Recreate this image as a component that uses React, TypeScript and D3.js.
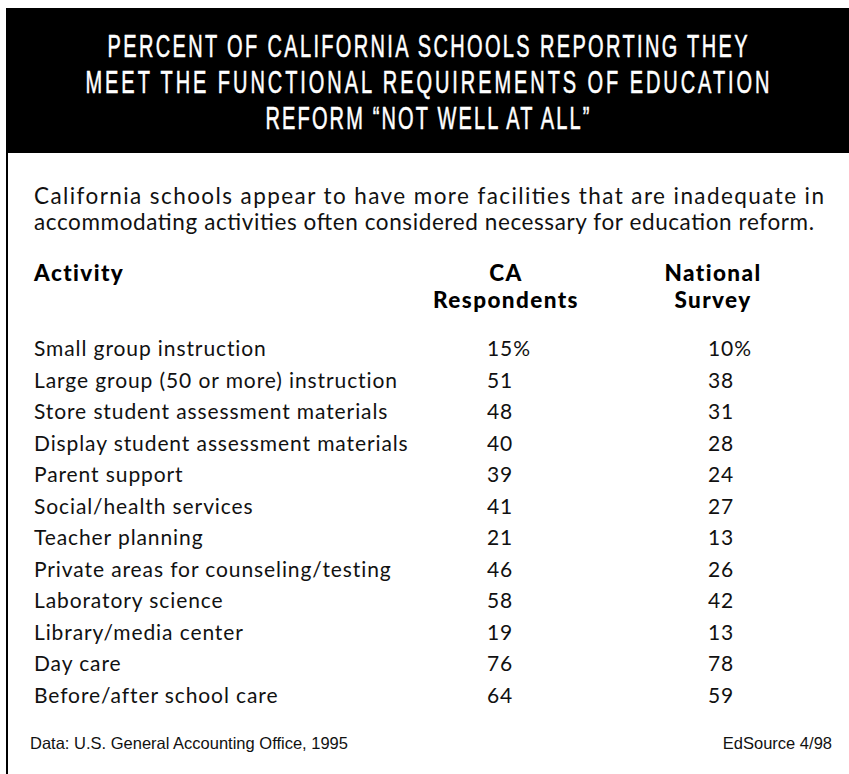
import React from "react";
import * as d3 from "d3";

// ---------- data ----------
const titleLines = [
  "PERCENT OF CALIFORNIA SCHOOLS REPORTING THEY",
  "MEET THE FUNCTIONAL REQUIREMENTS OF EDUCATION",
  "REFORM \u201CNOT WELL AT ALL\u201D",
];
const descriptionLines = [
  "California schools appear to have more facilities that are inadequate in",
  "accommodating activities often considered necessary for education reform.",
];
const activityHeader = ["Activity"];
const caHeader = ["CA", "Respondents"];
const nationalHeader = ["National", "Survey"];
const activities = [
  "Small group instruction",
  "Large group (50 or more) instruction",
  "Store student assessment materials",
  "Display student assessment materials",
  "Parent support",
  "Social/health services",
  "Teacher planning",
  "Private areas for counseling/testing",
  "Laboratory science",
  "Library/media center",
  "Day care",
  "Before/after school care",
];
const caValues = [15, 51, 48, 40, 39, 41, 21, 46, 58, 19, 76, 64];
const nationalValues = [10, 38, 31, 28, 24, 27, 13, 26, 42, 13, 78, 59];
const sourceNote = "Data: U.S. General Accounting Office, 1995";
const creditNote = "EdSource 4/98";

// ---------- layout ----------
const W = 849;
const H = 774;
const titleFont = "'Liberation Sans', Arial, sans-serif";
const bodyFont = "Lato, 'Open Sans', 'DejaVu Sans', sans-serif";
const footFont = "'Liberation Sans', Arial, sans-serif";

const titleBaselines = [57, 93, 129];
const titleWidths = [640, 684, 324];
const titleSx = 0.8;
const titleSy = 1.27;
const descBaselines = [204, 230];
const descWidths = [790, 780];
const leftX = 34;
const caCenter = 506;
const natCenter = 713;
const caNumX = 487;
const natNumX = 708;

export default function App() {
  const rowY = d3
    .scaleLinear()
    .domain([0, activities.length - 1])
    .range([356, 703]);
  const headerY = d3.scaleLinear().domain([0, 1]).range([281, 308]);
  const fmt = (v: number, i: number) => (i === 0 ? `${v}%` : `${v}`);
  const headStyle = {
    fontFamily: bodyFont,
    fontWeight: 900,
    fontSize: 22.5,
    letterSpacing: 1.4,
    fill: "#000",
  } as const;

  return (
    <svg
      width={W}
      height={H}
      style={{ position: "absolute", left: 0, top: 0, background: "#fff" }}
    >
      <rect x={0} y={0} width={W} height={H} fill="#fff" />
      {/* title band */}
      <rect x={6} y={8} width={W - 6} height={145} fill="#000" />
      {titleLines.map((t, i) => (
        <g
          key={t}
          transform={`translate(${(6 + W) / 2},${titleBaselines[i]}) scale(${titleSx},${titleSy})`}
        >
          <text
            x={0}
            y={0}
            textAnchor="middle"
            fill="#fff"
            stroke="#fff"
            strokeWidth={0.45}
            fontFamily={titleFont}
            fontSize={25}
            textLength={titleWidths[i] / titleSx}
            lengthAdjust="spacing"
          >
            {t}
          </text>
        </g>
      ))}
      {/* left frame line */}
      <line x1={7} x2={7} y1={153} y2={H} stroke="#000" strokeWidth={2} />

      {/* description */}
      {descriptionLines.map((t, i) => (
        <text
          key={t}
          x={leftX}
          y={descBaselines[i]}
          fill="#111"
          fontFamily={bodyFont}
          fontSize={22.5}
          textLength={descWidths[i]}
          lengthAdjust="spacing"
        >
          {t}
        </text>
      ))}

      {/* headers */}
      {activityHeader.map((t, i) => (
        <text key={t} x={leftX} y={headerY(i)} {...headStyle}>
          {t}
        </text>
      ))}
      {caHeader.map((t, i) => (
        <text key={t} x={caCenter} y={headerY(i)} textAnchor="middle" {...headStyle}>
          {t}
        </text>
      ))}
      {nationalHeader.map((t, i) => (
        <text key={t} x={natCenter} y={headerY(i)} textAnchor="middle" {...headStyle}>
          {t}
        </text>
      ))}

      {/* rows */}
      {activities.map((a, i) => (
        <g
          key={a}
          fontFamily={bodyFont}
          fontSize={21}
          fill="#111"
          letterSpacing={0.9}
        >
          <text x={leftX} y={rowY(i)}>
            {a}
          </text>
          <text x={caNumX} y={rowY(i)}>
            {fmt(caValues[i], i)}
          </text>
          <text x={natNumX} y={rowY(i)}>
            {fmt(nationalValues[i], i)}
          </text>
        </g>
      ))}

      {/* footer */}
      <text x={30} y={749} fontFamily={footFont} fontSize={16.5} fill="#111">
        {sourceNote}
      </text>
      <text
        x={832}
        y={749}
        textAnchor="end"
        fontFamily={footFont}
        fontSize={16.5}
        fill="#111"
      >
        {creditNote}
      </text>
    </svg>
  );
}
